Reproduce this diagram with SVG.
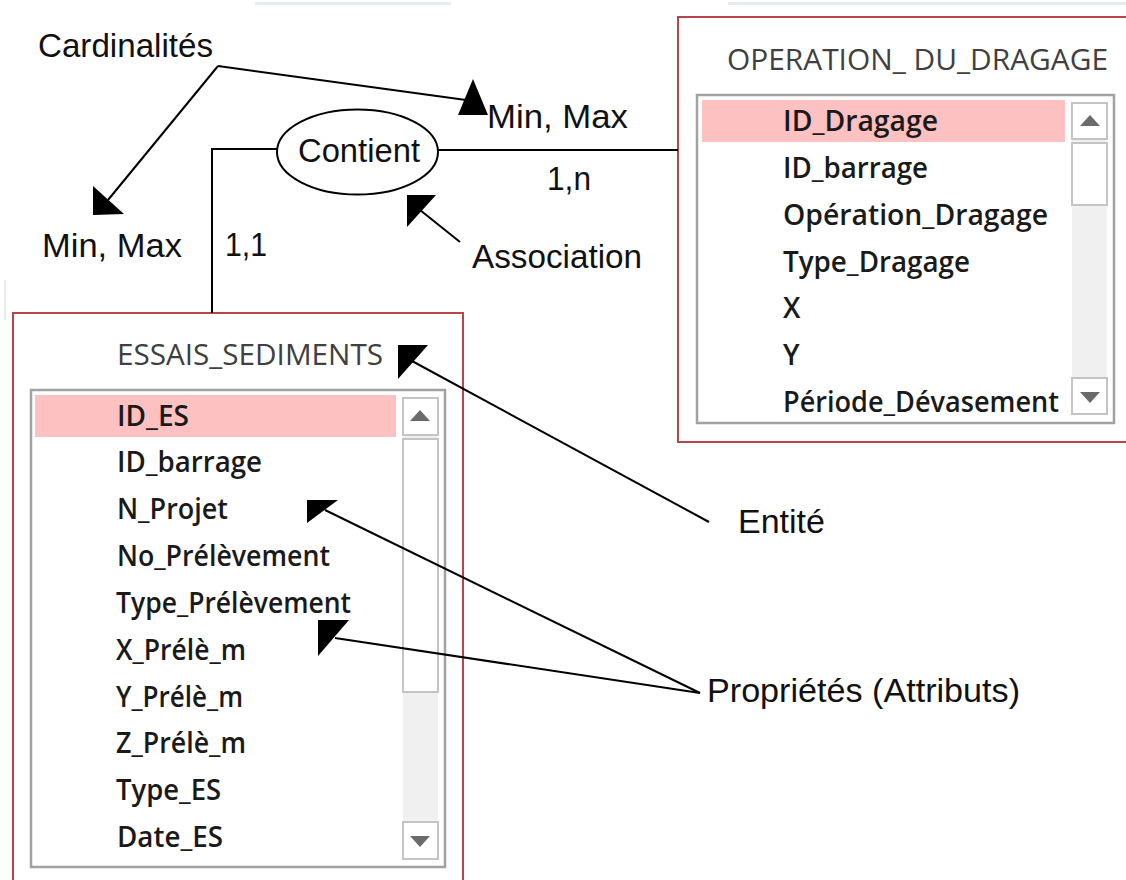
<svg xmlns="http://www.w3.org/2000/svg" width="1126" height="880" viewBox="0 0 1126 880">
  <style>
    .lbl { font-family: "Liberation Sans", Arial, sans-serif; font-size: 34px; fill: #111; }
    .title { font-family: "Open Sans", "Noto Sans", sans-serif; font-size: 29px; fill: #404040; }
    .row { font-family: "Open Sans", "Noto Sans", sans-serif; font-size: 28px; font-weight: 600; fill: #1a1a1a; }
    .frame { fill: #fff; stroke: #B9454A; stroke-width: 2; }
    .list { fill: #fff; stroke: #A2A2A2; stroke-width: 2.5; }
    .hl { fill: #FDC1C1; }
    .track { fill: #F0F0F0; }
    .btn { fill: #fff; stroke: #C4C4C4; stroke-width: 2; }
    .sarrow { fill: #6A6A6A; }
    .line { fill: none; stroke: #000; stroke-width: 2; }
    .head { fill: #000; }
    .faint { fill: #E8ECF0; }
  </style>

  <rect width="1126" height="880" fill="#fff"/>
  <rect class="faint" x="255" y="2" width="196" height="3"/>
  <rect class="faint" x="728" y="2" width="398" height="3"/>
  <rect class="faint" x="4" y="280" width="2" height="40"/>

  <!-- Entity: OPERATION_DU_DRAGAGE -->
  <g id="entity-operation-du-dragage">
    <rect class="frame" x="678" y="17" width="450" height="425"/>
    <text class="title" x="727" y="70" textLength="381" lengthAdjust="spacingAndGlyphs">OPERATION_ DU_DRAGAGE</text>
    <rect class="list" x="697" y="95" width="417" height="328"/>
    <rect class="hl" x="702" y="100" width="363" height="42"/>
    <rect class="track" x="1072" y="103" width="35" height="312"/>
    <rect class="btn" x="1072" y="103" width="35" height="36"/>
    <rect class="btn" x="1072" y="143" width="35" height="62"/>
    <rect class="btn" x="1072" y="378" width="35" height="36"/>
    <polygon class="sarrow" points="1090,115 1080,126 1100,126"/>
    <polygon class="sarrow" points="1080,392 1100,392 1090,403"/>
    <text class="row" x="783" y="131" textLength="155" lengthAdjust="spacingAndGlyphs">ID_Dragage</text>
    <text class="row" x="783" y="178" textLength="145" lengthAdjust="spacingAndGlyphs">ID_barrage</text>
    <text class="row" x="783" y="225" textLength="265" lengthAdjust="spacingAndGlyphs">Opération_Dragage</text>
    <text class="row" x="783" y="272" textLength="187" lengthAdjust="spacingAndGlyphs">Type_Dragage</text>
    <text class="row" x="783" y="318">X</text>
    <text class="row" x="783" y="365">Y</text>
    <text class="row" x="783" y="412" textLength="276" lengthAdjust="spacingAndGlyphs">Période_Dévasement</text>
  </g>

  <!-- Entity: ESSAIS_SEDIMENTS -->
  <g id="entity-essais-sediments">
    <rect class="frame" x="13" y="313" width="450" height="580"/>
    <text class="title" x="117" y="365" textLength="266" lengthAdjust="spacingAndGlyphs">ESSAIS_SEDIMENTS</text>
    <rect class="list" x="31" y="390" width="414" height="477"/>
    <rect class="hl" x="35" y="395" width="361" height="42"/>
    <rect class="track" x="403" y="398" width="35" height="461"/>
    <rect class="btn" x="403" y="398" width="35" height="37"/>
    <rect class="btn" x="403" y="439" width="35" height="253"/>
    <rect class="btn" x="403" y="822" width="35" height="37"/>
    <polygon class="sarrow" points="420,410 410,421 430,421"/>
    <polygon class="sarrow" points="410,836 430,836 420,847"/>
    <text class="row" x="117" y="426" textLength="72" lengthAdjust="spacingAndGlyphs">ID_ES</text>
    <text class="row" x="117" y="472" textLength="145" lengthAdjust="spacingAndGlyphs">ID_barrage</text>
    <text class="row" x="117" y="519" textLength="111" lengthAdjust="spacingAndGlyphs">N_Projet</text>
    <text class="row" x="117" y="566" textLength="213" lengthAdjust="spacingAndGlyphs">No_Prélèvement</text>
    <text class="row" x="116" y="613" textLength="235" lengthAdjust="spacingAndGlyphs">Type_Prélèvement</text>
    <text class="row" x="116" y="660" textLength="130" lengthAdjust="spacingAndGlyphs">X_Prélè_m</text>
    <text class="row" x="116" y="707" textLength="127" lengthAdjust="spacingAndGlyphs">Y_Prélè_m</text>
    <text class="row" x="116" y="753" textLength="130" lengthAdjust="spacingAndGlyphs">Z_Prélè_m</text>
    <text class="row" x="116" y="800" textLength="105" lengthAdjust="spacingAndGlyphs">Type_ES</text>
    <text class="row" x="117" y="847" textLength="106" lengthAdjust="spacingAndGlyphs">Date_ES</text>
  </g>

  <!-- Association: Contient -->
  <g id="association-contient">
    <ellipse cx="357.5" cy="152" rx="80.5" ry="42.5" fill="#fff" stroke="#000" stroke-width="2"/>
    <text class="lbl" x="298" y="162" textLength="122" lengthAdjust="spacingAndGlyphs">Contient</text>
  </g>

  <!-- Connectors and annotation arrows -->
  <g id="connectors">
    <polyline class="line" points="212,313 212,149 277,149"/>
    <line class="line" x1="438" y1="150" x2="678" y2="150"/>
    <line class="line" x1="218" y1="66" x2="108" y2="200"/>
    <polygon class="head" points="93,186 93,215 124,214"/>
    <line class="line" x1="218" y1="66" x2="466" y2="100"/>
    <polygon class="head" points="473,79 458,115 488,115"/>
    <line class="line" x1="460" y1="242" x2="420" y2="210"/>
    <polygon class="head" points="407,195 436,195 407,227"/>
    <line class="line" x1="709" y1="522" x2="412" y2="361"/>
    <polygon class="head" points="398,345 428,345 398,379"/>
    <line class="line" x1="700" y1="693" x2="325" y2="510"/>
    <polygon class="head" points="307,500 338,500 307,523"/>
    <line class="line" x1="700" y1="693" x2="335" y2="638"/>
    <polygon class="head" points="318,620 349,620 318,656"/>
  </g>

  <!-- Labels -->
  <g id="labels">
    <text class="lbl" x="38" y="57" textLength="175" lengthAdjust="spacingAndGlyphs">Cardinalités</text>
    <text class="lbl" x="42" y="257" textLength="140" lengthAdjust="spacingAndGlyphs">Min, Max</text>
    <text class="lbl" x="487" y="128" textLength="141" lengthAdjust="spacingAndGlyphs">Min, Max</text>
    <text class="lbl" x="225" y="256" textLength="42" lengthAdjust="spacingAndGlyphs">1,1</text>
    <text class="lbl" x="547" y="190" textLength="44" lengthAdjust="spacingAndGlyphs">1,n</text>
    <text class="lbl" x="472" y="268" textLength="170" lengthAdjust="spacingAndGlyphs">Association</text>
    <text class="lbl" x="738" y="533" textLength="87" lengthAdjust="spacingAndGlyphs">Entité</text>
    <text class="lbl" x="707" y="702" textLength="313" lengthAdjust="spacingAndGlyphs">Propriétés (Attributs)</text>
  </g>
</svg>
